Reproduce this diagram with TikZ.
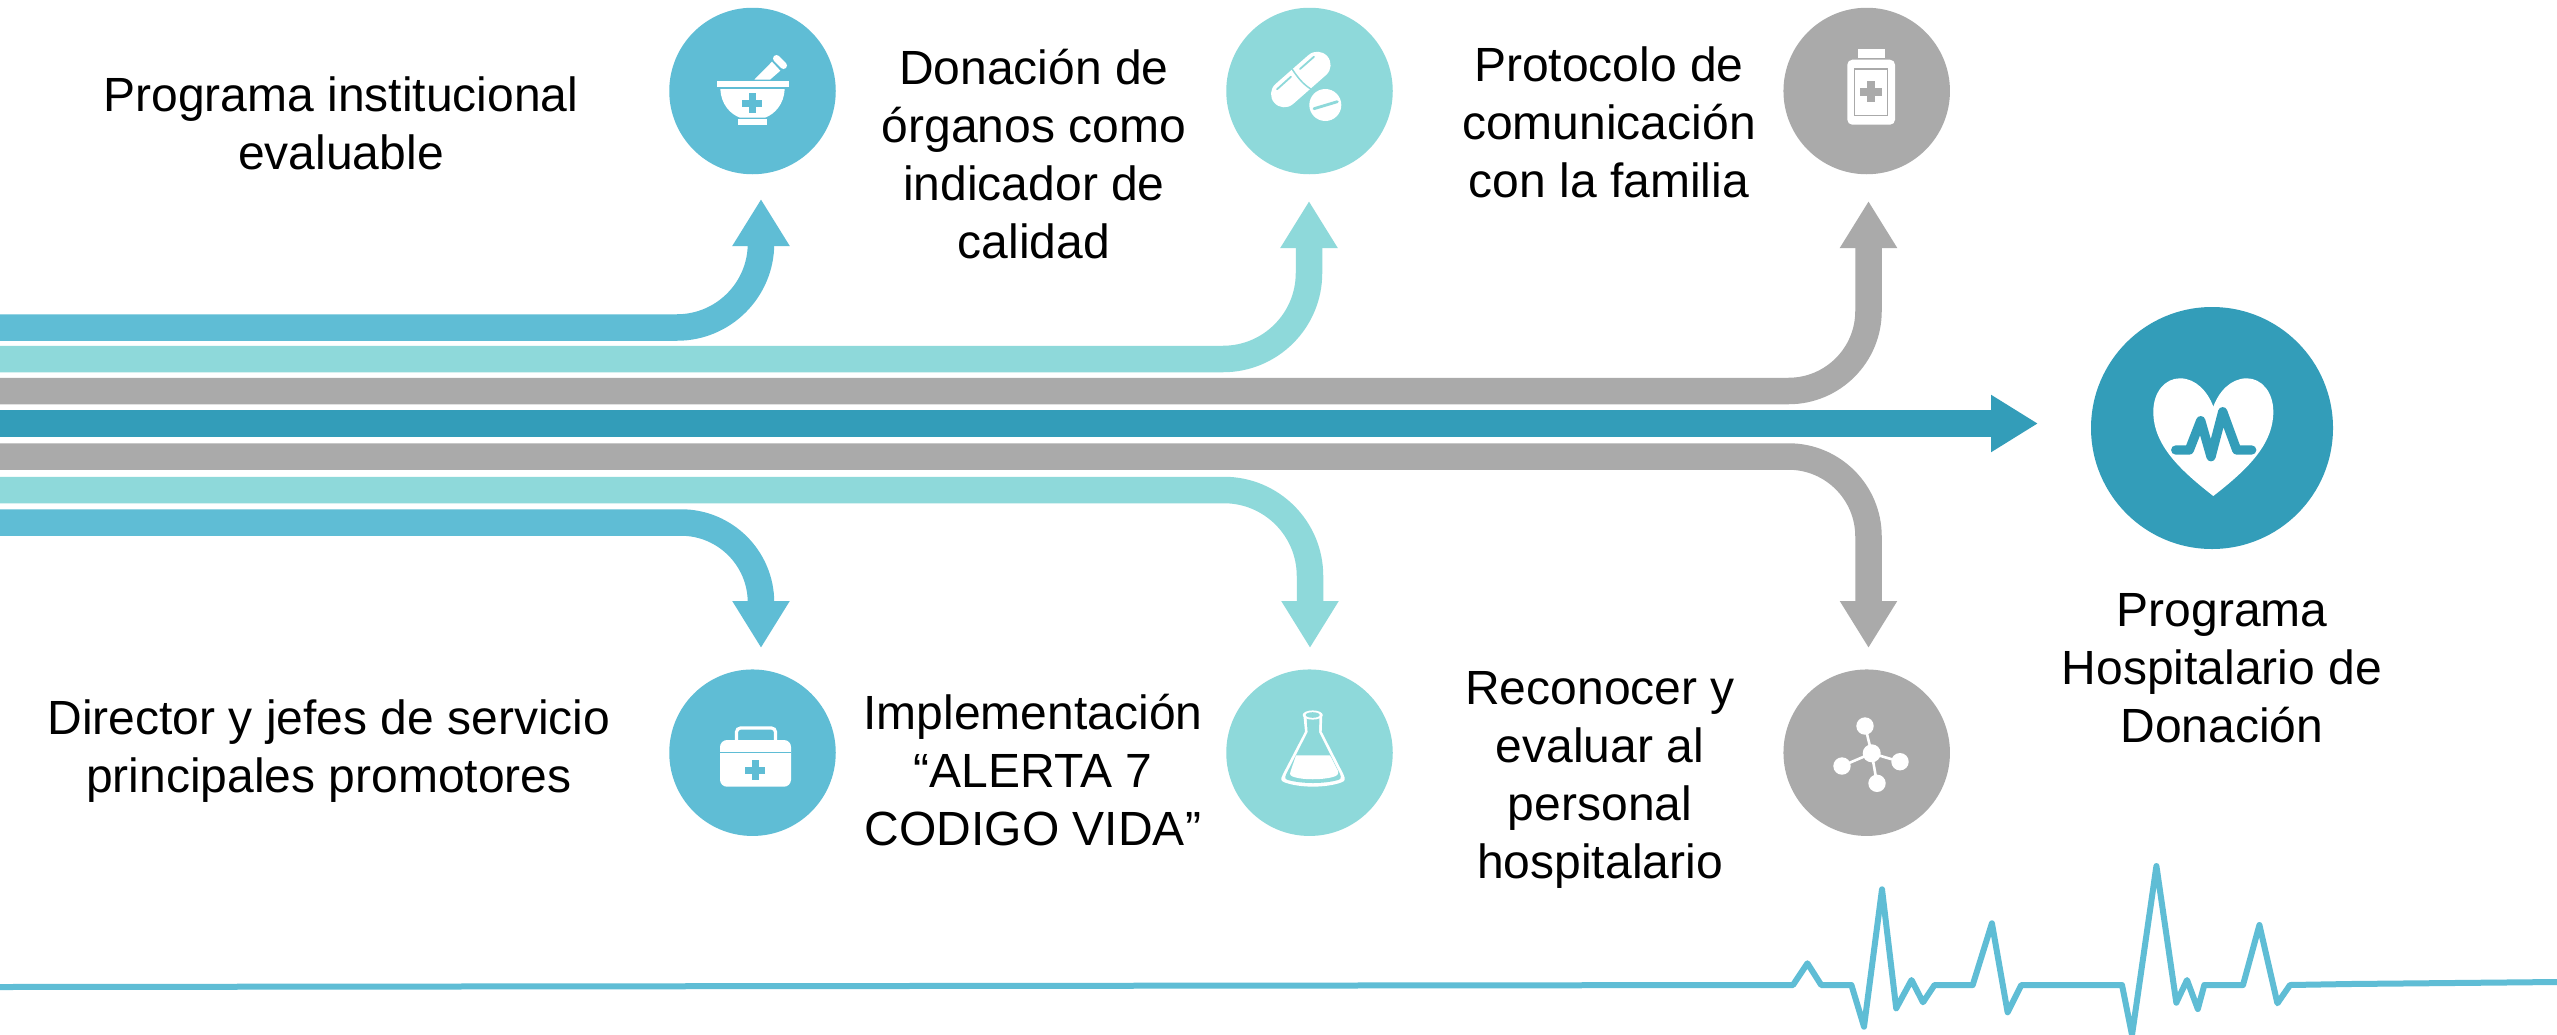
\documentclass[tikz,border=0pt]{standalone}
\usepackage{fontspec}
\setmainfont{Liberation Sans}
\usetikzlibrary{arrows.meta}
\definecolor{cblue}{HTML}{5FBDD5}
\definecolor{cteal}{HTML}{8ED9DA}
\definecolor{cgray}{HTML}{AAAAAA}
\definecolor{cdark}{HTML}{339DB9}
\tikzset{
  band/.style={line width=26.5pt,line cap=butt,rounded corners=#1,
    -{Triangle[length=47pt,width=54pt]}},
  band/.default=1pt,
  disc/.style={circle,inner sep=0pt,outer sep=0pt,minimum size=166.5pt},
  label/.style={align=center,inner sep=0pt,text=black,font=\fontsize{48}{58}\selectfont},
  ecg/.style={draw=cblue,line width=6pt,line join=round,line cap=round},
  thin mark/.style={line width=#1,line cap=round},
}
\newcommand{\plusmark}[5]{%
  \fill[#5] (#1-#3,#2-#4) rectangle (#1+#3,#2+#4);
  \fill[#5] (#1-#4,#2-#3) rectangle (#1+#4,#2+#3);}
\begin{document}
\begin{tikzpicture}[x=1pt,y=-1pt]
\useasboundingbox (0,0) rectangle (2557,1034);
\fill[white] (0,0) rectangle (2557,1034);

% circles
\node[disc,fill=cblue] (c1) at (752.5,91) {};
\node[disc,fill=cteal] (c2) at (1309.5,91) {};
\node[disc,fill=cgray] (c3) at (1866.7,91) {};
\node[disc,fill=cblue] (c4) at (752.5,752.7) {};
\node[disc,fill=cteal] (c5) at (1309.5,752.7) {};
\node[disc,fill=cgray] (c6) at (1866.7,752.7) {};
\node[disc,fill=cdark,minimum size=242pt] (hub) at (2212,428) {};

% connector coordinates
\coordinate (a1s) at (0,327.5);   \coordinate (a1c) at (761,327.5);   \coordinate (a1t) at (761,199);
\coordinate (a2s) at (0,359);     \coordinate (a2c) at (1309,359);    \coordinate (a2t) at (1309,201);
\coordinate (a3s) at (0,391);     \coordinate (a3c) at (1868.5,391);  \coordinate (a3t) at (1868.5,201);
\coordinate (a4s) at (0,423.5);   \coordinate (a4t) at (2038,423.5);
\coordinate (a5s) at (0,456.5);   \coordinate (a5c) at (1868.5,456.5);\coordinate (a5t) at (1868.5,648);
\coordinate (a6s) at (0,490);     \coordinate (a6c) at (1310,490);    \coordinate (a6t) at (1310,648);
\coordinate (a7s) at (0,522.5);   \coordinate (a7c) at (761,522.5);   \coordinate (a7t) at (761,648);

% connectors
\draw[band=84pt,draw=cblue] (a1s) -- (a1c) -- (a1t);
\draw[band=86pt,draw=cteal] (a2s) -- (a2c) -- (a2t);
\draw[band=80pt,draw=cgray] (a3s) -- (a3c) -- (a3t);
\draw[band=1pt,draw=cdark] (a4s) -- (a4t);
\draw[band=80pt,draw=cgray] (a5s) -- (a5c) -- (a5t);
\draw[band=86pt,draw=cteal] (a6s) -- (a6c) -- (a6t);
\draw[band=80pt,draw=cblue] (a7s) -- (a7c) -- (a7t);

% labels
\node[label] (t1) at (341,123) {Programa institucional\\evaluable};
\node[label] (t2) at (1034,154) {Donación de\\órganos como\\indicador de\\calidad};
\node[label] (t3) at (1609,122) {Protocolo de\\comunicación\\con la familia};
\node[label] (t4) at (329,751) {Director y jefes de servicio\\principales promotores};
\node[label] (t5) at (1033,770) {Implementación\\“ALERTA 7\\CODIGO VIDA”};
\node[label] (t6) at (1600,780) {Reconocer y\\evaluar al\\personal\\hospitalario};
\node[label] (t7) at (2222,668) {Programa\\Hospitalario de\\Donación};

% mortar icon
\fill[white] (717.3,81.3) rectangle (788.7,87.3);
\fill[white] (720.3,89) -- (784.7,89) .. controls (784,104) and (775,114) .. (765,117.7) -- (740,117.7) .. controls (730,114) and (721,104) .. (720.3,89) -- cycle;
\fill[white] (738.3,119.3) rectangle (766.7,125);
\plusmark{752.3}{103.3}{10}{3.5}{cblue}
\fill[white] (754.3,79.7) -- (772,61.7) -- (780.3,70.7) -- (770,79.7) -- cycle;
\draw[white,line width=7pt,line cap=round] (776.5,58.5) -- (783.5,65.5);

% pills icon
\draw[white,line width=26.6pt,line cap=round] (1284.3,94) -- (1317.3,65);
\draw[cteal,thin mark=1.5pt] (1292.3,69.3) .. controls (1298,78) and (1303,84) .. (1310.7,89);
\draw[cteal,thin mark=1.8pt] (1277,89.3) -- (1291,76.7);
\draw[cteal,thin mark=1.8pt] (1300,69) -- (1314,56.7);
\fill[white] (1325.3,105) circle (16);
\draw[cteal,thin mark=2.8pt] (1314,108.7) -- (1337.3,101.7);

% bottle icon
\fill[white] (1858,49) rectangle (1884.7,58);
\fill[white,rounded corners=5pt] (1847.3,59.7) rectangle (1895,124.7);
\draw[cgray,line width=1.4pt] (1854.7,69) rectangle (1887.7,115.7);
\plusmark{1871}{91.7}{10.7}{3.8}{cgray}

% kit icon
\draw[white,line width=3.2pt,rounded corners=4pt] (736.5,745) -- (736.5,728) -- (775.5,728) -- (775.5,745);
\fill[white,rounded corners=7pt] (720,740) rectangle (791,786.7);
\fill[cblue] (720,751.7) rectangle (791,753.4);
\plusmark{755.3}{770.3}{10}{3.5}{cblue}

% flask icon
\fill[white] (1303.3,714.3) -- (1305,731.7) -- (1283,774) .. controls (1280,780) and (1281,781) .. (1285,782.5) .. controls (1300,788) and (1326,788) .. (1341,782.5) .. controls (1345,781) and (1346,780) .. (1343.3,774) -- (1321.7,731.7) -- (1322.3,714.3) -- cycle;
\fill[cteal] (1306.5,716) -- (1307.6,732.2) -- (1286.3,774) .. controls (1284.5,778) and (1285,779) .. (1288,780) .. controls (1302,784) and (1324,784) .. (1338,780) .. controls (1341,779) and (1341.5,778) .. (1340,774) -- (1319,732.2) -- (1319.5,716) -- cycle;
\fill[white] (1296,755.3) -- (1330,755.3) -- (1338,771) .. controls (1339,775) and (1336,776) .. (1333,777) .. controls (1322,780) and (1303,780) .. (1294,777) .. controls (1291,776) and (1289,775) .. (1290.7,771) -- cycle;
\fill[white] (1312.7,715) ellipse (10 and 4.6);
\fill[cteal] (1312.7,715) ellipse (7 and 2.8);

% molecule icon
\draw[white,line width=2.6pt] (1871.7,753.3) -- (1865,726);
\draw[white,line width=2.6pt] (1871.7,753.3) -- (1900,761.7);
\draw[white,line width=2.6pt] (1871.7,753.3) -- (1842,766);
\draw[white,line width=2.6pt] (1871.7,753.3) -- (1877,783.3);
\fill[white] (1871.7,753.3) circle (9);
\fill[white] (1865,726) circle (8.7);
\fill[white] (1900,761.7) circle (8.7);
\fill[white] (1842,766) circle (8.7);
\fill[white] (1877,783.3) circle (8.7);

% heart icon
\fill[white] (2213.3,496) .. controls (2180,470) and (2153.3,445) .. (2153.3,411.7)
  .. controls (2153.3,392) and (2165,378.3) .. (2180,378.3)
  .. controls (2196,378.3) and (2208,392) .. (2213.3,406.7)
  .. controls (2218.6,392) and (2230.6,378.3) .. (2246.7,378.3)
  .. controls (2261.6,378.3) and (2273.3,392) .. (2273.3,411.7)
  .. controls (2273.3,445) and (2246.6,470) .. (2213.3,496) -- cycle;
\draw[cdark,line width=9.3pt,line cap=round,line join=round]
  (2175.7,450) -- (2189.3,450) -- (2200.7,420.7) -- (2211,456.7) -- (2222.7,411.7) -- (2236.7,450) -- (2251.7,450);

% heartbeat line
\draw[ecg] (0,987) -- (1793,985) -- (1807.4,963.3) -- (1821.2,985) -- (1851.4,985)
  -- (1864,1026.7) -- (1882,889.3) -- (1896.2,1008.3) -- (1911.5,980) -- (1923,1002.3)
  -- (1934.5,985) -- (1972.7,985) -- (1991.9,923.3) -- (2007.6,1012.3) -- (2021.3,985)
  -- (2122,985) -- (2132,1035) -- (2156.4,866) -- (2176.3,1002.7) -- (2187,980)
  -- (2197.8,1009) -- (2204.3,985) -- (2243,985) -- (2259.4,925) -- (2277.4,1003.3)
  -- (2290,985) -- (2350,984) -- (2557,982);
\end{tikzpicture}
\end{document}
